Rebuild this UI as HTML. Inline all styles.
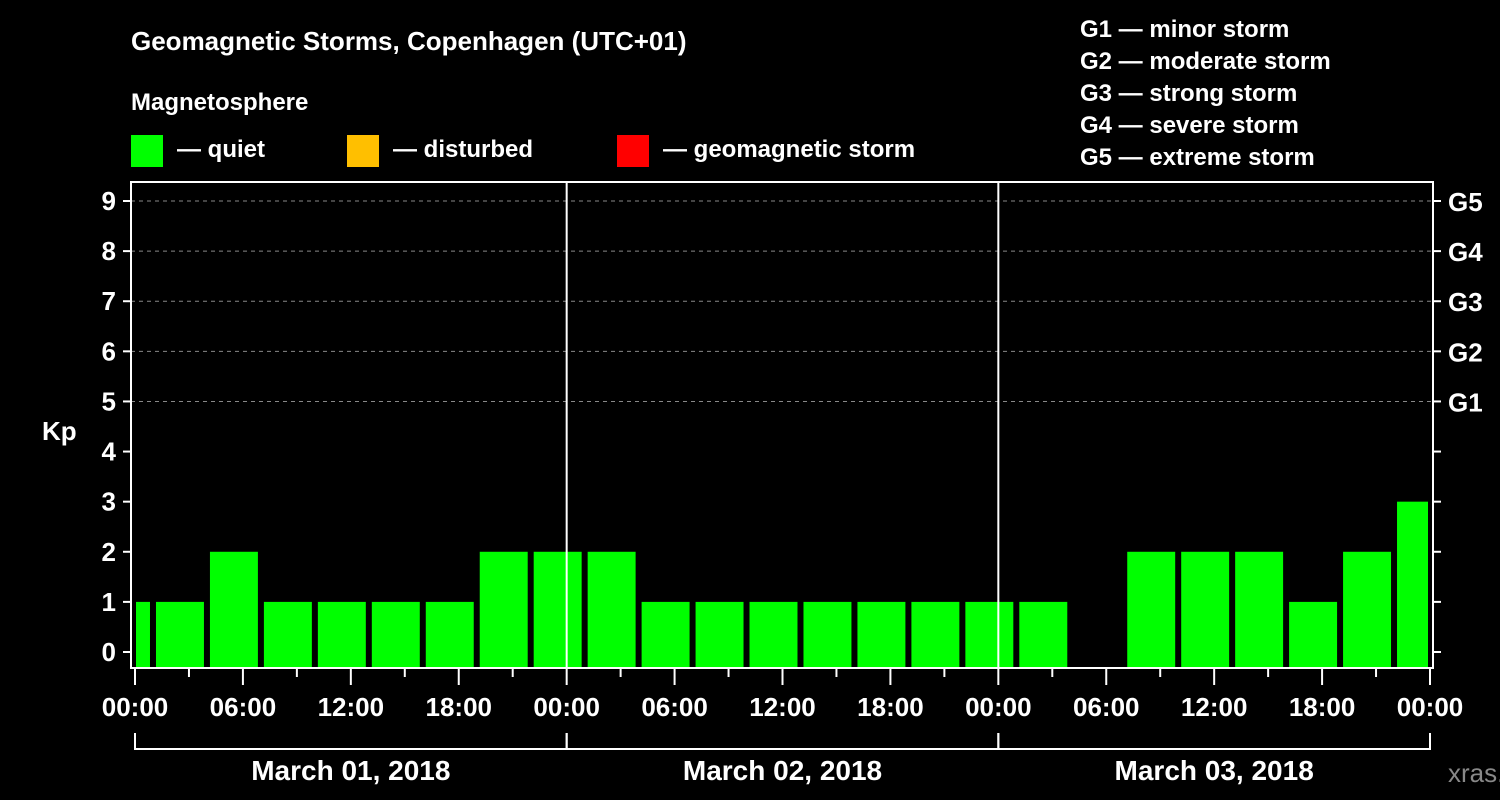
<!DOCTYPE html>
<html><head><meta charset="utf-8"><style>
body{margin:0;background:#000;width:1500px;height:800px;overflow:hidden}
svg{display:block;font-family:"Liberation Sans",Arial,sans-serif;font-weight:bold}
</style></head><body>
<svg id="chart" width="1500" height="800" viewBox="0 0 1500 800">
<text x="131" y="50" fill="#fff" font-size="26">Geomagnetic Storms, Copenhagen (UTC+01)</text>
<text x="131" y="110" fill="#fff" font-size="24">Magnetosphere</text>
<g><rect x="131" y="135" width="32" height="32" fill="#00ff00"/><text x="177" y="157" fill="#fff" font-size="24">— quiet</text></g>
<g><rect x="347" y="135" width="32" height="32" fill="#ffbf00"/><text x="393" y="157" fill="#fff" font-size="24">— disturbed</text></g>
<g><rect x="617" y="135" width="32" height="32" fill="#ff0000"/><text x="663" y="157" fill="#fff" font-size="24">— geomagnetic storm</text></g>
<g fill="#fff" font-size="24">
<text x="1080" y="37">G1 — minor storm</text>
<text x="1080" y="69">G2 — moderate storm</text>
<text x="1080" y="101">G3 — strong storm</text>
<text x="1080" y="133">G4 — severe storm</text>
<text x="1080" y="165">G5 — extreme storm</text>
</g>
<text x="42" y="440" fill="#fff" font-size="26">Kp</text>
<text x="1448" y="782" fill="#888" font-size="26" font-weight="normal">xras.ru</text>
<g id="grid"></g><g id="bars"></g><g id="axes"></g>
</svg>
<script>
const kpValues=[1,1,2,1,1,1,1,2,2,2,1,1,1,1,1,1,1,1,null,2,2,2,1,2,3];
const xTickLabels=["00:00","06:00","12:00","18:00","00:00","06:00","12:00","18:00","00:00","06:00","12:00","18:00","00:00"];
const dayLabels=["March 01, 2018","March 02, 2018","March 03, 2018"];
const gLabels=["G1","G2","G3","G4","G5"];
const NS="http://www.w3.org/2000/svg";
const L=131,R=1433,T=182,B=668,X0=135,X1=1430;
const xs=h=>X0+(X1-X0)*h/72;
const ys=v=>652-v*(652-201)/9;
function mk(tag,attrs,parent,txt){const e=document.createElementNS(NS,tag);for(const k in attrs)e.setAttribute(k,attrs[k]);if(txt!==undefined)e.textContent=txt;parent.appendChild(e);return e;}
const grid=document.getElementById('grid'),bars=document.getElementById('bars'),axes=document.getElementById('axes');
for(let v=5;v<=9;v++){const l=mk('line',{x1:L,x2:R,y1:ys(v),y2:ys(v),stroke:'#888','stroke-dasharray':'4,4'},grid);

}
kpValues.forEach((v,i)=>{if(v===null)return;
let a=xs(i*3-2)+3,b=xs(i*3+1)-3;a=Math.max(a,X0+1);b=Math.min(b,R-5);
const c=v>=5?'#ff0000':(v>=4?'#ffbf00':'#00ff00');
const r=mk('rect',{x:a,y:ys(v),width:b-a,height:B-1-ys(v),fill:c},bars);

});
[1,2].forEach(d=>{const l=mk('line',{x1:xs(d*24),x2:xs(d*24),y1:T,y2:B,stroke:'#fff','stroke-width':2},axes);

});
const fr=mk('rect',{x:L,y:T,width:R-L,height:B-T,fill:'none',stroke:'#fff','stroke-width':2},axes);


for(let v=0;v<=9;v++){
mk('line',{x1:L-8,x2:L,y1:ys(v),y2:ys(v),stroke:'#fff','stroke-width':2},axes);
mk('line',{x1:R,x2:R+8,y1:ys(v),y2:ys(v),stroke:'#fff','stroke-width':2},axes);
const t=mk('text',{x:116,y:ys(v)+9,fill:'#fff','font-size':26,'text-anchor':'end'},axes,String(v));

}
gLabels.forEach((g,i)=>{const t=mk('text',{x:1448,y:ys(i+5)+10,fill:'#fff','font-size':26},axes,g);

});
for(let h=0;h<=72;h+=3){const major=h%6===0;mk('line',{x1:xs(h),x2:xs(h),y1:B,y2:B+(major?17:9),stroke:'#fff','stroke-width':2},axes);}
xTickLabels.forEach((s,i)=>{const t=mk('text',{x:xs(i*6),y:716,fill:'#fff','font-size':26,'text-anchor':'middle'},axes,s);

});
dayLabels.forEach((s,i)=>{
mk('path',{d:`M${xs(i*24)},733V749H${xs(i*24+24)}V733`,fill:'none',stroke:'#fff','stroke-width':2},axes);
const t=mk('text',{x:xs(i*24+12),y:780,fill:'#fff','font-size':28,'text-anchor':'middle'},axes,s);

});
</script>
</body></html>
